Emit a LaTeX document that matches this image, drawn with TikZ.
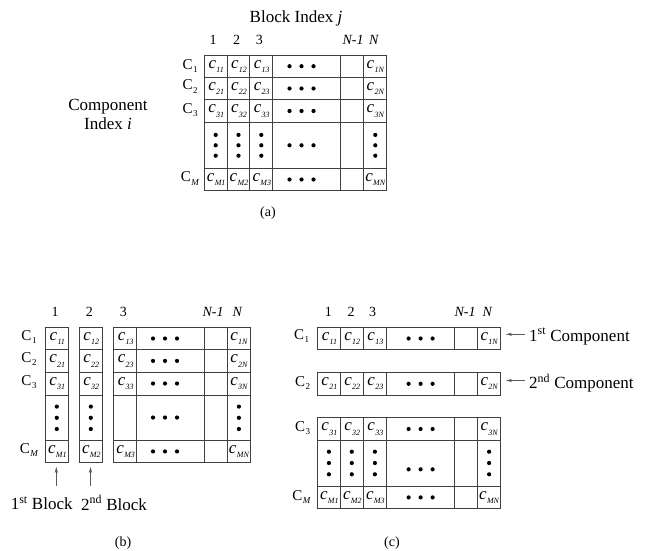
\documentclass[tikz,border=0pt]{standalone}
\usepackage{fontspec}
\setmainfont{Liberation Serif}
\usetikzlibrary{arrows.meta}
\newcommand\cc[1]{\textit{c}\kern0.3pt\raisebox{-0.55ex}{\fontsize{8}{8}\selectfont\textit{#1}}}
\newcommand\rl[1]{C\kern0.5pt\raisebox{-0.45ex}{\fontsize{9}{9}\selectfont #1}}
\tikzset{
  gridline/.style={draw=black!75, line width=0.9pt},
  celltxt/.style={inner sep=0pt, font=\fontsize{17}{17}\selectfont},
  head/.style={inner sep=0pt, font=\fontsize{14}{14}\selectfont},
  rowlab/.style={inner sep=0pt, font=\fontsize{15}{15}\selectfont},
  big/.style={inner sep=0pt, font=\fontsize{17}{20}\selectfont, align=center},
  dotmark/.style={fill=black, draw=none, circle, inner sep=0pt, minimum size=4.2pt},
  ptr/.style={draw=black!65, line width=0.7pt, -{Stealth[length=6pt,width=3.2pt]}},
}
% vertical three dots
\newcommand\vdotsat[3]{\node[dotmark] at (#1,#2-#3) {};\node[dotmark] at (#1,#2) {};\node[dotmark] at (#1,#2+#3) {};}
\newcommand\hdotsat[2]{\node[dotmark] at (#1-12,#2) {};\node[dotmark] at (#1,#2) {};\node[dotmark] at (#1+12,#2) {};}
\begin{document}
\begin{tikzpicture}[x=1pt,y=-1pt]
\useasboundingbox (0,0) rectangle (650,551);
\fill[white] (0,0) rectangle (650,551);

%%%%%%%%%%%%%%%% (a)
\node[big] (atitle) at (296,18) {Block Index \textit{j}};
\node[big] (aidx) at (108,114) {Component\\[-1pt]Index \textit{i}};
\draw[gridline] (204.3,55) rectangle (386.7,190.7);
\foreach \x in {227.1,249.9,272.7,340.9,363.9} \draw[gridline] (\x,55) -- (\x,190.7);
\foreach \y in {77.3,99.7,122.3,168.3} \draw[gridline] (204.3,\y) -- (386.7,\y);
\node[head] (ah1) at (213,40) {1};
\node[head] (ah2) at (236.7,40) {2};
\node[head] (ah3) at (259.3,40) {3};
\node[head] (ahn1) at (353,40) {\textit{N-1}};
\node[head] (ahn) at (374,40) {\textit{N}};
\node[rowlab] (ar1) at (190,66) {\rl{1}};
\node[rowlab] (ar2) at (190,86.5) {\rl{2}};
\node[rowlab] (ar3) at (190,110) {\rl{3}};
\node[rowlab] (arm) at (190,178.5) {\rl{\textit{M}}};
\foreach \r/\y in {1/66.2,2/88.5,3/111} {
  \node[celltxt] (a\r1) at (216.2,\y) {\cc{\r1}};
  \node[celltxt] (a\r2) at (239,\y) {\cc{\r2}};
  \node[celltxt] (a\r3) at (261.8,\y) {\cc{\r3}};
  \node[celltxt] (a\r N) at (375.5,\y) {\cc{\r N}};
  \hdotsat{301.5}{\y}
}
\node[celltxt] (aM1) at (216.2,179.5) {\cc{M1}};
\node[celltxt] (aM2) at (239,179.5) {\cc{M2}};
\node[celltxt] (aM3) at (261.8,179.5) {\cc{M3}};
\node[celltxt] (aMN) at (375.5,179.5) {\cc{MN}};
\hdotsat{301.5}{179.5}
\hdotsat{301.5}{145.3}
\foreach \x in {215.7,238.5,261.3,375.3} {\vdotsat{\x}{145.3}{10.4}}
\node[head] (alab) at (268,213) {(a)};

%%%%%%%%%%%%%%%% (b)
\draw[gridline] (45.3,327.3) rectangle (68.3,462.7);
\draw[gridline] (79.3,327.3) rectangle (102.3,462.7);
\draw[gridline] (113.7,327.3) rectangle (250,462.7);
\foreach \y in {349.7,372,395,440} {
  \draw[gridline] (45.3,\y) -- (68.3,\y);
  \draw[gridline] (79.3,\y) -- (102.3,\y);
  \draw[gridline] (113.7,\y) -- (250,\y);
}
\foreach \x in {136.7,204.3,227.7} \draw[gridline] (\x,327.3) -- (\x,462.7);
\node[head] (bh1) at (55,311.7) {1};
\node[head] (bh2) at (89.3,311.7) {2};
\node[head] (bh3) at (123.3,311.7) {3};
\node[head] (bhn1) at (213,311.7) {\textit{N-1}};
\node[head] (bhn) at (237.7,311.7) {\textit{N}};
\node[rowlab] (br1) at (29,337) {\rl{1}};
\node[rowlab] (br2) at (29,359) {\rl{2}};
\node[rowlab] (br3) at (29,382) {\rl{3}};
\node[rowlab] (brm) at (29,450) {\rl{\textit{M}}};
\foreach \r/\y in {1/338.5,2/360.9,3/383.5} {
  \node[celltxt] (b\r1) at (57.3,\y) {\cc{\r1}};
  \node[celltxt] (b\r2) at (91.3,\y) {\cc{\r2}};
  \node[celltxt] (b\r3) at (125.7,\y) {\cc{\r3}};
  \node[celltxt] (b\r N) at (239.1,\y) {\cc{\r N}};
  \hdotsat{165}{\y}
}
\node[celltxt] (bM1) at (57.3,451.4) {\cc{M1}};
\node[celltxt] (bM2) at (91.3,451.4) {\cc{M2}};
\node[celltxt] (bM3) at (125.7,451.4) {\cc{M3}};
\node[celltxt] (bMN) at (239.1,451.4) {\cc{MN}};
\hdotsat{165}{451.4}
\hdotsat{165}{417.5}
\foreach \x in {56.8,90.8,238.9} {\vdotsat{\x}{417.8}{11.2}}
\node[big] (blk1) at (41.7,503) {1\textsuperscript{st} Block};
\node[big] (blk2) at (114,503) {2\textsuperscript{nd} Block};
\coordinate (bp1s) at (56.3,486);
\coordinate (bp1e) at (56.3,467);
\coordinate (bp2s) at (90.5,486);
\coordinate (bp2e) at (90.5,467);
\draw[ptr] (bp1s) -- (bp1e);
\draw[ptr] (bp2s) -- (bp2e);
\node[head] (blab) at (123,543) {(b)};

%%%%%%%%%%%%%%%% (c)
\draw[gridline] (317.5,327.3) rectangle (500.5,349.7);
\draw[gridline] (317.5,372.3) rectangle (500.5,395.3);
\draw[gridline] (317.5,417.7) rectangle (500.5,508.7);
\foreach \x in {340.3,363.3,386.5,454.7,477.7} {
  \draw[gridline] (\x,327.3) -- (\x,349.7);
  \draw[gridline] (\x,372.3) -- (\x,395.3);
  \draw[gridline] (\x,417.7) -- (\x,508.7);
}
\foreach \y in {440.3,486} \draw[gridline] (317.5,\y) -- (500.5,\y);
\node[head] (ch1) at (328.3,312) {1};
\node[head] (ch2) at (351,312) {2};
\node[head] (ch3) at (372.7,312) {3};
\node[head] (chn1) at (465,312) {\textit{N-1}};
\node[head] (chn) at (487.7,312) {\textit{N}};
\node[rowlab] (cr1) at (301.5,336) {\rl{1}};
\node[rowlab] (cr2) at (302.5,383) {\rl{2}};
\node[rowlab] (cr3) at (302.5,428) {\rl{3}};
\node[rowlab] (crm) at (301.5,497) {\rl{\textit{M}}};
\foreach \r/\y in {1/338.5,2/383.8,3/429} {
  \node[celltxt] (c\r1) at (329.4,\y) {\cc{\r1}};
  \node[celltxt] (c\r2) at (352.3,\y) {\cc{\r2}};
  \node[celltxt] (c\r3) at (375.4,\y) {\cc{\r3}};
  \node[celltxt] (c\r N) at (489.3,\y) {\cc{\r N}};
  \hdotsat{420.6}{\y}
}
\node[celltxt] (cM1) at (329.4,497.4) {\cc{M1}};
\node[celltxt] (cM2) at (352.3,497.4) {\cc{M2}};
\node[celltxt] (cM3) at (375.4,497.4) {\cc{M3}};
\node[celltxt] (cMN) at (489.3,497.4) {\cc{MN}};
\hdotsat{420.6}{497.4}
\hdotsat{420.6}{469.3}
\foreach \x in {328.9,351.8,374.9,489.1} {\vdotsat{\x}{463}{11.3}}
\node[big, anchor=west] (comp1) at (529,336.5) {1\textsuperscript{st} Component};
\node[big, anchor=west] (comp2) at (529,383) {2\textsuperscript{nd} Component};
\coordinate (cp1s) at (525,334.3);
\coordinate (cp1e) at (506,334.3);
\coordinate (cp2s) at (525,380.5);
\coordinate (cp2e) at (506,380.5);
\draw[ptr] (cp1s) -- (cp1e);
\draw[ptr] (cp2s) -- (cp2e);
\node[head] (clab) at (392,543) {(c)};
\end{tikzpicture}
\end{document}
